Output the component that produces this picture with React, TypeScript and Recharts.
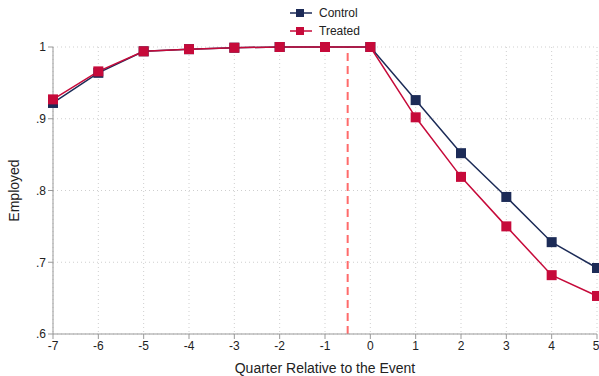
import React from 'react';
import {
  LineChart,
  Line,
  XAxis,
  YAxis,
  CartesianGrid,
  ReferenceLine,
} from 'recharts';

const quarters = [-7, -6, -5, -4, -3, -2, -1, 0, 1, 2, 3, 4, 5];
const control = [0.922, 0.964, 0.994, 0.997, 0.999, 1.0, 1.0, 1.0, 0.926, 0.852, 0.791, 0.728, 0.692];
const treated = [0.927, 0.966, 0.994, 0.997, 0.999, 1.0, 1.0, 1.0, 0.902, 0.819, 0.75, 0.682, 0.653];
const yTicks = [0.6, 0.7, 0.8, 0.9, 1];
const eventLine = -0.5;

const CONTROL = '#1c2b57';
const TREATED = '#c60a3a';
const FONT = '"Liberation Sans", Arial, sans-serif';

const data = quarters.map((q, i) => ({ q, control: control[i], treated: treated[i] }));

const fmtY = (v: number) => (v === 1 ? '1' : '.' + Math.round(v * 10));

const squareDot = (color: string) => (props: any) => {
  const { cx, cy, index } = props;
  return <rect key={`d-${color}-${index}`} x={cx - 5} y={cy - 5} width={10} height={10} fill={color} />;
};

// rotated y title, centred on the plot height
const YTitle = ({ viewBox }: any) => {
  const x = 14;
  const y = viewBox.y + viewBox.height / 2;
  return (
    <text x={x} y={y} transform={`rotate(-90 ${x} ${y})`} textAnchor="middle" dominantBaseline="central"
      fill="#222" fontSize={14} fontFamily={FONT}>
      Employed
    </text>
  );
};

// legend sits above the plot, outside recharts layout
const LegendBox = () => (
  <div style={{ position: 'absolute', left: 290, top: 4, fontFamily: FONT, fontSize: 12, color: '#222' }}>
    {[
      { name: 'Control', color: CONTROL },
      { name: 'Treated', color: TREATED },
    ].map((it) => (
      <div key={it.name} style={{ display: 'flex', alignItems: 'center', height: 18 }}>
        <svg width={24} height={12} style={{ marginRight: 5 }}>
          <line x1={0} y1={6} x2={22} y2={6} stroke={it.color} strokeWidth={1.5} />
          <rect x={6} y={2} width={8} height={8} fill={it.color} />
        </svg>
        <span>{it.name}</span>
      </div>
    ))}
  </div>
);

export default function App() {
  return (
    <div style={{ position: 'absolute', left: 0, top: 0, width: 599, height: 376, background: '#fff' }}>
      <LineChart width={599} height={376} data={data} margin={{ top: 47, right: 2, left: 0, bottom: 0 }}>
        <CartesianGrid stroke="#cfcfcf" strokeDasharray="1 3" />
        <XAxis
          dataKey="q"
          type="number"
          domain={[-7, 5]}
          ticks={quarters}
          height={42}
          stroke="#999"
          tickSize={5}
          tick={{ fill: '#222', fontSize: 12, fontFamily: FONT }}
          label={{ value: 'Quarter Relative to the Event', position: 'insideBottom', offset: 3, fill: '#222', fontSize: 14, fontFamily: FONT }}
        />
        <YAxis
          type="number"
          domain={[0.6, 1]}
          ticks={yTicks}
          width={53}
          stroke="#999"
          tickSize={5}
          tickFormatter={fmtY}
          tick={{ fill: '#222', fontSize: 12, fontFamily: FONT }}
          label={<YTitle />}
        />
        <ReferenceLine x={eventLine} stroke="#ff6b6b" strokeWidth={2} strokeDasharray="8 5" />
        <Line
          dataKey="control"
          stroke={CONTROL}
          strokeWidth={1.5}
          dot={squareDot(CONTROL)}
          activeDot={false}
          isAnimationActive={false}
        />
        <Line
          dataKey="treated"
          stroke={TREATED}
          strokeWidth={1.5}
          dot={squareDot(TREATED)}
          activeDot={false}
          isAnimationActive={false}
        />
      </LineChart>
      <LegendBox />
    </div>
  );
}
